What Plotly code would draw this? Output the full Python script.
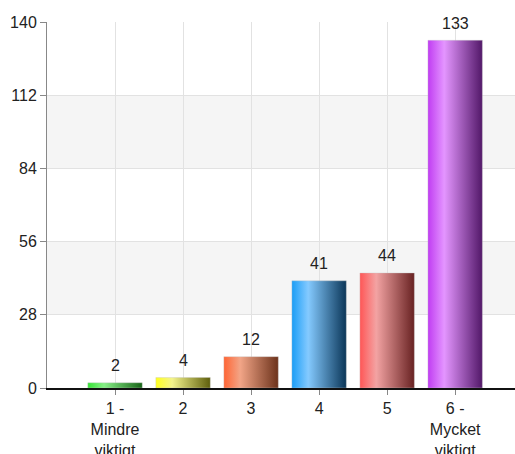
import plotly.graph_objects as go

categories = ["1 -<br>Mindre<br>viktigt", "2", "3", "4", "5", "6 -<br>Mycket<br>viktigt"]
values = [2, 4, 12, 41, 44, 133]
y_ticks = [0, 28, 56, 84, 112, 140]
bar_colors = [
    ("#35e335", "#86f086", "#176417"),
    ("#ffff1e", "#f4f48c", "#5f5f0c"),
    ("#ff6534", "#f2a587", "#6c321b"),
    ("#1a9df6", "#84caff", "#0b3658"),
    ("#ff5656", "#f3a3a3", "#682222"),
    ("#c03cf2", "#e495ff", "#521868"),
]

BAR_W = 0.8
fig = go.Figure()

# alternating background bands
for k in range(len(y_ticks) - 1):
    if k % 2 == 1:
        fig.add_shape(type="rect", xref="paper", yref="y", x0=0, x1=1,
                      y0=y_ticks[k], y1=y_ticks[k + 1],
                      fillcolor="#f5f5f5", line_width=0, layer="below")

for i, (v, (c0, c1, c2)) in enumerate(zip(values, bar_colors)):
    xl, xr = i - BAR_W / 2, i + BAR_W / 2
    fig.add_trace(go.Scatter(
        x=[xl, xl, xr, xr, xl], y=[0, v, v, 0, 0],
        mode="lines", fill="toself", line=dict(width=0.6, color="rgba(200,200,200,0.6)"),
        fillgradient=dict(type="horizontal",
                          colorscale=[[0, c0], [0.3, c1], [1, c2]]),
        hoverinfo="skip", showlegend=False))

for i, v in enumerate(values):
    fig.add_annotation(x=i, y=v, text=str(v), showarrow=False,
                       yanchor="middle", yshift=17,
                       font=dict(size=16, color="#222"))

fig.update_layout(
    width=515, height=454,
    margin=dict(l=47, r=0, t=22, b=66),
    plot_bgcolor="white", paper_bgcolor="white",
    font=dict(family="Liberation Sans, Arial, sans-serif", size=16, color="#222"),
    xaxis=dict(range=[-1, 5.88], tickvals=list(range(len(categories))),
               ticktext=categories, showgrid=True, gridcolor="#e2e2e2",
               ticks="outside", ticklen=5, tickcolor="#888",
               showline=True, linecolor="#111", linewidth=1.5,
               zeroline=False, fixedrange=True, automargin=False,
               tickfont=dict(size=16)),
    yaxis=dict(range=[0, 140], tickvals=y_ticks, showgrid=True, gridcolor="#e2e2e2",
               ticks="outside", ticklen=6, tickcolor="#888",
               showline=True, linecolor="#888", linewidth=1,
               zeroline=False, fixedrange=True, automargin=False,
               tickfont=dict(size=16)),
)

fig.write_html("out.html", config={"displayModeBar": False},
               post_script="document.body.style.margin='0';")
